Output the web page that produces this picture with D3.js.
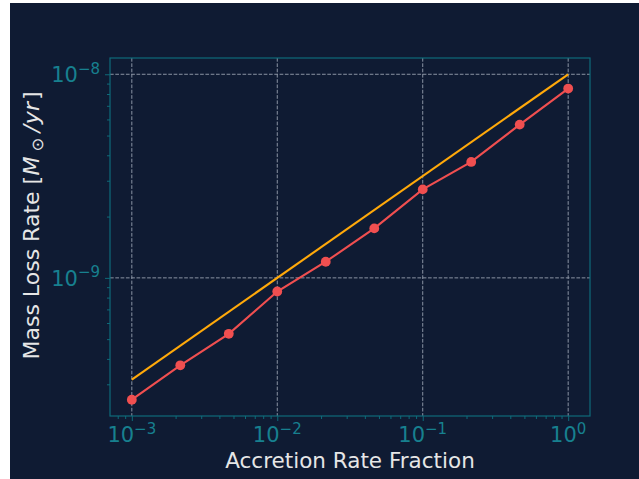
<!DOCTYPE html>
<html>
<head>
<meta charset="utf-8">
<script src="https://cdn.jsdelivr.net/npm/d3@7"></script>
<style>
  html, body { margin: 0; padding: 0; background: #ffffff; }
  svg { display: block; }
  text { font-family: "DejaVu Sans", sans-serif; }
</style>
</head>
<body>
<svg id="chart" width="639" height="479"></svg>
<script>
// Accretion rate fraction (log-spaced samples)
const accretionFraction = [1e-3, 2.154e-3, 4.642e-3, 1e-2, 2.154e-2, 4.642e-2, 1e-1, 2.154e-1, 4.642e-1, 1];
// Measured mass loss rate [M_sun / yr]
const massLossRate = [2.52e-10, 3.72e-10, 5.31e-10, 8.57e-10, 1.20e-9, 1.75e-9, 2.72e-9, 3.71e-9, 5.66e-9, 8.51e-9];
// Reference scaling line endpoints
const referenceFraction = [1e-3, 1];
const referenceRate = [3.162e-10, 1e-8];
// Tick exponents
const xTickExponents = [-3, -2, -1, 0];
const yTickExponents = [-9, -8];

const svg = d3.select("#chart");
const W = 639, H = 479;
const plot = { left: 110, top: 58, right: 590, bottom: 416 };

const bg = "#0f1b33";
const spineColor = "#0e6b7a";
const tickLabelColor = "#17808f";
const labelColor = "#e6e6e6";
const gridColor = "#8a93a3";

svg.append("rect").attr("x", 10).attr("y", 3).attr("width", W - 10).attr("height", H - 3).attr("fill", bg);

// log-axis limits padded by 5% of the data span
function paddedLogDomain(values) {
  const lo = Math.log10(d3.min(values)), hi = Math.log10(d3.max(values));
  const pad = (hi - lo) * 0.05;
  return [Math.pow(10, lo - pad), Math.pow(10, hi + pad)];
}
const x = d3.scaleLog()
  .domain(paddedLogDomain(accretionFraction.concat(referenceFraction)))
  .range([plot.left, plot.right]);
const y = d3.scaleLog()
  .domain(paddedLogDomain(massLossRate.concat(referenceRate)))
  .range([plot.bottom, plot.top]);

// minor tick values
function minorTicks(scale) {
  const [a, b] = scale.domain();
  const out = [];
  for (let e = Math.floor(Math.log10(a)); e <= Math.ceil(Math.log10(b)); e++) {
    for (let m = 2; m <= 9; m++) {
      const v = m * Math.pow(10, e);
      if (v >= a && v <= b) out.push(v);
    }
  }
  return out;
}

// grid
const grid = svg.append("g");
xTickExponents.forEach(e => {
  const px = x(Math.pow(10, e));
  grid.append("line").attr("x1", px).attr("x2", px).attr("y1", plot.top).attr("y2", plot.bottom)
    .attr("stroke", gridColor).attr("stroke-width", 1).attr("stroke-dasharray", "3.7,1.6");
});
yTickExponents.forEach(e => {
  const py = y(Math.pow(10, e));
  grid.append("line").attr("x1", plot.left).attr("x2", plot.right).attr("y1", py).attr("y2", py)
    .attr("stroke", gridColor).attr("stroke-width", 1).attr("stroke-dasharray", "3.7,1.6");
});

// axes (ticks only; labels drawn separately with superscripts)
const xAxis = d3.axisBottom(x).tickValues(xTickExponents.map(e => Math.pow(10, e))).tickFormat("").tickSize(5).tickSizeOuter(0);
const xMinor = d3.axisBottom(x).tickValues(minorTicks(x)).tickFormat("").tickSize(3).tickSizeOuter(0);
const yAxis = d3.axisLeft(y).tickValues(yTickExponents.map(e => Math.pow(10, e))).tickFormat("").tickSize(5).tickSizeOuter(0);
const yMinor = d3.axisLeft(y).tickValues(minorTicks(y)).tickFormat("").tickSize(3).tickSizeOuter(0);

[[xAxis, `translate(0,${plot.bottom})`], [xMinor, `translate(0,${plot.bottom})`],
 [yAxis, `translate(${plot.left},0)`], [yMinor, `translate(${plot.left},0)`]].forEach(([ax, tr]) => {
  const g = svg.append("g").attr("transform", tr).call(ax);
  g.select(".domain").remove();
  g.selectAll("line").attr("stroke", spineColor).attr("stroke-width", 1);
});

// tick labels with superscript exponents
function powLabel(sel, e) {
  sel.append("tspan").text("10");
  sel.append("tspan").attr("dy", -8.5).attr("font-size", 15).text(e < 0 ? "\u2212" + Math.abs(e) : String(e));
}
xTickExponents.forEach(e => {
  const t = svg.append("text").attr("x", x(Math.pow(10, e))).attr("y", plot.bottom + 26)
    .attr("text-anchor", "middle").attr("font-size", 21).attr("fill", tickLabelColor);
  powLabel(t, e);
});
yTickExponents.forEach(e => {
  const t = svg.append("text").attr("x", plot.left - 10).attr("y", y(Math.pow(10, e)) + 8)
    .attr("text-anchor", "end").attr("font-size", 21).attr("fill", tickLabelColor);
  powLabel(t, e);
});

// spines
svg.append("rect").attr("x", plot.left).attr("y", plot.top)
  .attr("width", plot.right - plot.left).attr("height", plot.bottom - plot.top)
  .attr("fill", "none").attr("stroke", spineColor).attr("stroke-width", 1.2);

// reference line
const line = d3.line().x(d => x(d[0])).y(d => y(d[1]));
svg.append("path").datum(d3.zip(referenceFraction, referenceRate))
  .attr("d", line).attr("fill", "none").attr("stroke", "#ffa90a").attr("stroke-width", 2.1);

// measured series
const measured = d3.zip(accretionFraction, massLossRate);
svg.append("path").datum(measured)
  .attr("d", line).attr("fill", "none").attr("stroke", "#f04f50").attr("stroke-width", 2.1);
svg.append("g").selectAll("circle").data(measured).join("circle")
  .attr("cx", d => x(d[0])).attr("cy", d => y(d[1])).attr("r", 4.9).attr("fill", "#f04f50");

// axis titles
svg.append("text").attr("x", (plot.left + plot.right) / 2).attr("y", 468)
  .attr("text-anchor", "middle").attr("font-size", 21.5).attr("fill", labelColor)
  .text("Accretion Rate Fraction");

const yl = svg.append("text")
  .attr("transform", `translate(39,225.5) rotate(-90)`)
  .attr("text-anchor", "middle").attr("font-size", 22).attr("fill", labelColor);
yl.append("tspan").text("Mass Loss Rate [");
yl.append("tspan").attr("dx", 0.5).attr("font-style", "italic").text("M");
yl.append("tspan").attr("font-size", 16.5).attr("dx", 5).attr("dy", 4).text("\u2299");
yl.append("tspan").attr("dx", 5).attr("dy", -4).attr("font-style", "italic").text("/");
yl.append("tspan").attr("dx", 1).attr("font-style", "italic").text("yr");
yl.append("tspan").attr("dx", 2).text("]");
</script>
</body>
</html>
